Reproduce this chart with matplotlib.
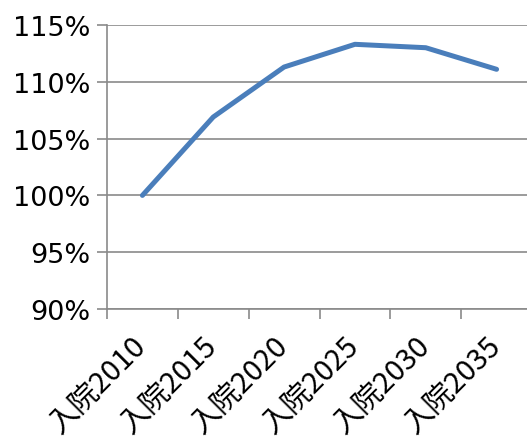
import matplotlib
matplotlib.use("Agg")
import matplotlib.pyplot as plt
from matplotlib.ticker import FixedLocator, FuncFormatter

plt.rcParams['font.family'] = ['DejaVu Sans', 'Noto Sans CJK JP']

categories = ["入院2010", "入院2015", "入院2020", "入院2025", "入院2030", "入院2035"]
ratio_pct = [100.0, 106.9, 111.3, 113.3, 113.0, 111.1]
y_ticks = [90, 95, 100, 105, 110, 115]

W, H = 527, 439
fig = plt.figure(figsize=(W / 100, H / 100), dpi=100)
ax = fig.add_axes([107 / W, (H - 310) / H, 425 / W, 284 / H])

grid_color = "#8a8a8a"
line_color = "#4a7ebb"

x = [i + 0.5 for i in range(len(categories))]
ax.plot(x, ratio_pct, color=line_color, lw=3.6, solid_capstyle="round",
        solid_joinstyle="round", zorder=3)

ax.set_xlim(0, len(categories))
ax.set_ylim(y_ticks[0], y_ticks[-1])

# y axis
ax.set_yticks(y_ticks)
ax.yaxis.set_major_formatter(FuncFormatter(lambda v, p: f"{v:.0f}%"))
ax.tick_params(axis="y", direction="out", length=7, width=1.2, color=grid_color,
               labelsize=19.5, pad=5)
ax.grid(axis="y", color=grid_color, lw=1.2, zorder=1)

# x axis: tick marks between categories, labels centred on categories
ax.xaxis.set_major_locator(FixedLocator(range(len(categories) + 1)))
ax.xaxis.set_major_formatter(FuncFormatter(lambda v, p: ""))
ax.xaxis.set_minor_locator(FixedLocator(x))
ax.set_xticklabels(categories, minor=True)
ax.tick_params(axis="x", which="major", direction="out", length=7, width=1.2,
               color=grid_color)
ax.tick_params(axis="x", which="minor", length=0, pad=23)
for lab in ax.get_xticklabels(minor=True):
    lab.set_family(['Noto Sans CJK JP', 'DejaVu Sans'])
    lab.set_fontsize(21)
    lab.set_rotation(45)
    lab.set_rotation_mode("anchor")
    lab.set_ha("right")
    lab.set_va("center")

for side in ("top", "right"):
    ax.spines[side].set_visible(False)
for side in ("left", "bottom"):
    ax.spines[side].set_color(grid_color)
    ax.spines[side].set_linewidth(1.2)

fig.savefig("out.png", dpi=100)
